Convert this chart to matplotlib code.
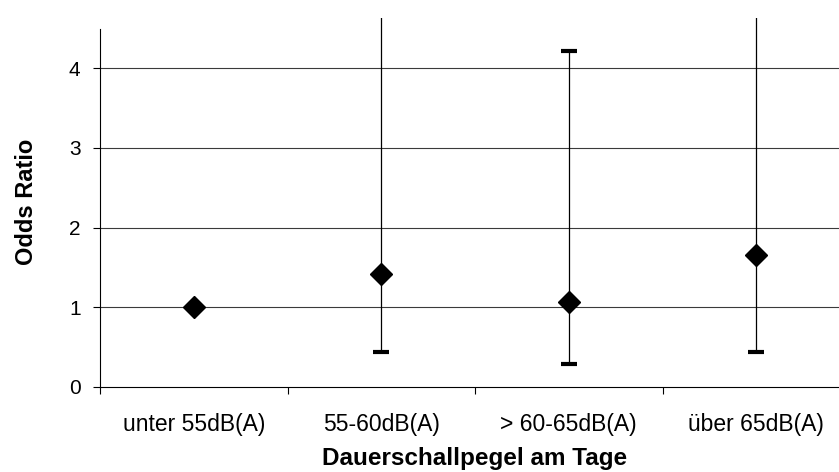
import matplotlib
matplotlib.use("Agg")
import matplotlib.pyplot as plt
import numpy as np

categories = ["unter 55dB(A)", "55-60dB(A)", "> 60-65dB(A)", "über 65dB(A)"]
odds_ratio = [1.0, 1.42, 1.06, 1.65]
ci_lower = [1.0, 0.44, 0.29, 0.44]
ci_upper = [1.0, 6.0, 4.22, 6.0]
y_ticks = [0, 1, 2, 3, 4]

plt.rcParams["font.family"] = ["Liberation Sans", "DejaVu Sans"]

W, H = 839, 472
fig = plt.figure(figsize=(W / 100, H / 100), dpi=100)
left_px, right_px = 100, 850
zero_px, top_px = 386.7, 17.5
ax = fig.add_axes([left_px / W, (H - zero_px) / H,
                   (right_px - left_px) / W, (zero_px - top_px) / H])

x = np.arange(len(categories))
y = np.array(odds_ratio)
yerr = np.vstack([y - np.array(ci_lower), np.array(ci_upper) - y])

ax.set_xlim(-0.5, len(categories) - 0.5)
ax.set_ylim(0, 4.64)

for v in y_ticks[1:]:
    ax.axhline(v, color="#3a3a3a", lw=0.8, zorder=1)

ax.errorbar(x, y, yerr=yerr, fmt="none", ecolor="black", elinewidth=0.9,
            capsize=5.8, capthick=3, zorder=3)
ax.plot(x, y, linestyle="none", marker="D", markersize=11,
        color="black", zorder=4)

for side in ["top", "right"]:
    ax.spines[side].set_visible(False)
ax.spines["left"].set_bounds(0, 4.5)
ax.spines["left"].set_linewidth(0.8)
ax.spines["bottom"].set_linewidth(0.8)

ax.set_yticks(y_ticks)
ax.set_yticklabels([str(t) for t in y_ticks], fontsize=15)
ax.tick_params(axis="y", direction="out", length=5, width=0.8, pad=9)

ax.set_xticks(np.arange(-0.5, len(categories) - 0.5, 1.0))
ax.set_xticklabels([])
ax.tick_params(axis="x", which="major", direction="out", length=5, width=0.8)
ax.set_xticks(x, minor=True)
ax.set_xticklabels(categories, minor=True, fontsize=16.5)
ax.tick_params(axis="x", which="minor", length=0, pad=19)

ax.set_ylabel("Odds Ratio", fontsize=17, fontweight="bold", labelpad=22)
ax.set_xlabel("Dauerschallpegel am Tage", fontsize=17.5, fontweight="bold",
              va="baseline")
ax.xaxis.set_label_coords(0.5, -(465.5 - zero_px) / (zero_px - top_px))

fig.savefig("out.png", dpi=100)
